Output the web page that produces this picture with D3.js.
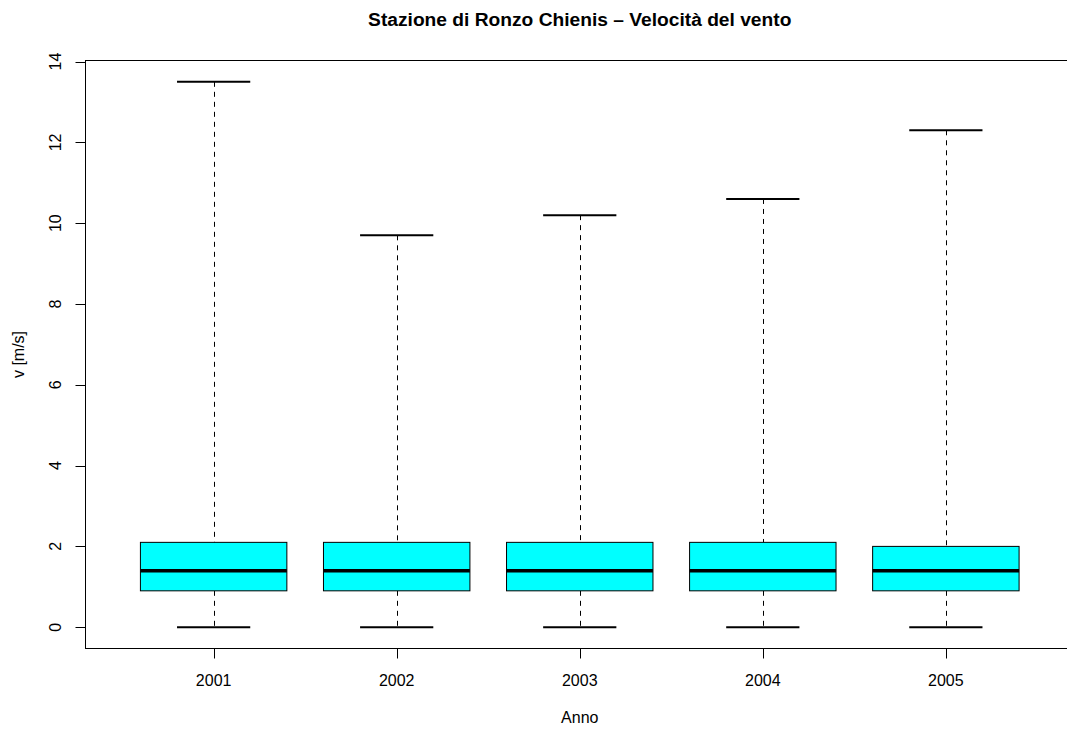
<!DOCTYPE html>
<html><head><meta charset="utf-8">
<script src="https://cdn.jsdelivr.net/npm/d3@7"></script>
<style>body{margin:0;background:#fff;overflow:hidden;} text{font-family:"Liberation Sans",Arial,sans-serif;fill:#000;}</style>
</head><body><svg id="c" width="1067" height="729"></svg>
<script>
const years = ["2001","2002","2003","2004","2005"];
const whiskerLow = [0,0,0,0,0];
const q1 = [0.9,0.9,0.9,0.9,0.9];
const median = [1.4,1.4,1.4,1.4,1.4];
const q3 = [2.1,2.1,2.1,2.1,2.0];
const whiskerHigh = [13.5,9.7,10.2,10.6,12.3];
const yTicks = [0,2,4,6,8,10,12,14];

const svg = d3.select("#c");
const L=85.5, R=1074, T=60, B=649;
const x = d3.scaleLinear().domain([0.3,5.7]).range([L,R]);
const y = d3.scaleLinear().domain([-0.54,14.04]).range([B,T]);
const data = years.map((yr,i)=>({yr,i:i+1,lo:whiskerLow[i],q1:q1[i],med:median[i],q3:q3[i],hi:whiskerHigh[i]}));

const g = svg.append("g");
const bw = 0.4, cw = 0.2;
data.forEach(d=>{
  const cx = Math.round(x(d.i))+0.5;
  g.append("line").attr("x1",cx).attr("x2",cx).attr("y1",y(d.hi)).attr("y2",y(d.q3))
   .attr("stroke","#000").attr("stroke-dasharray","5,5");
  g.append("line").attr("x1",cx).attr("x2",cx).attr("y1",y(d.q1)).attr("y2",y(d.lo))
   .attr("stroke","#000").attr("stroke-dasharray","5,5");
  g.append("line").attr("x1",x(d.i-cw)).attr("x2",x(d.i+cw)).attr("y1",y(d.hi)).attr("y2",y(d.hi)).attr("stroke","#000").attr("stroke-width",2);
  g.append("line").attr("x1",x(d.i-cw)).attr("x2",x(d.i+cw)).attr("y1",y(d.lo)).attr("y2",y(d.lo)).attr("stroke","#000").attr("stroke-width",2);
  g.append("rect").attr("x",x(d.i-bw)).attr("width",x(d.i+bw)-x(d.i-bw)).attr("y",y(d.q3)).attr("height",y(d.q1)-y(d.q3))
   .attr("fill","#00ffff").attr("stroke","#000").attr("stroke-width",1);
  g.append("line").attr("x1",x(d.i-bw)).attr("x2",x(d.i+bw)).attr("y1",y(d.med)).attr("y2",y(d.med)).attr("stroke","#000").attr("stroke-width",3.5);
});
// frame
svg.append("rect").attr("x",L).attr("y",T+0.5).attr("width",R-L).attr("height",B-T-1).attr("fill","none").attr("stroke","#000");
// y axis
const ya = svg.append("g").attr("transform",`translate(${L},0)`);
ya.append("line").attr("x1",0).attr("x2",0).attr("y1",y(0)).attr("y2",y(14)).attr("stroke","#000");
yTicks.forEach(t=>{
  ya.append("line").attr("x1",-10).attr("x2",0).attr("y1",Math.round(y(t))+0.5).attr("y2",Math.round(y(t))+0.5).attr("stroke","#000");
  ya.append("text").attr("transform",`translate(-25,${y(t)}) rotate(-90)`).attr("text-anchor","middle").attr("font-size",16).text(t);
});
// x axis
const xa = svg.append("g").attr("transform",`translate(0,${B-0.5})`);
xa.append("line").attr("x1",x(1)).attr("x2",x(5)).attr("y1",0).attr("y2",0).attr("stroke","#000");
data.forEach(d=>{
  xa.append("line").attr("x1",Math.round(x(d.i))+0.5).attr("x2",Math.round(x(d.i))+0.5).attr("y1",0).attr("y2",10).attr("stroke","#000");
  xa.append("text").attr("x",x(d.i)).attr("y",37).attr("text-anchor","middle").attr("font-size",16).text(d.yr);
});
svg.append("text").attr("x",(L+R)/2).attr("y",26).attr("text-anchor","middle").attr("font-size",19.2).attr("font-weight","bold").text("Stazione di Ronzo Chienis – Velocità del vento");
svg.append("text").attr("x",(L+R)/2).attr("y",723).attr("text-anchor","middle").attr("font-size",16).text("Anno");
svg.append("text").attr("transform",`translate(24,${(T+B)/2}) rotate(-90)`).attr("text-anchor","middle").attr("font-size",16).text("v [m/s]");
</script></body></html>
